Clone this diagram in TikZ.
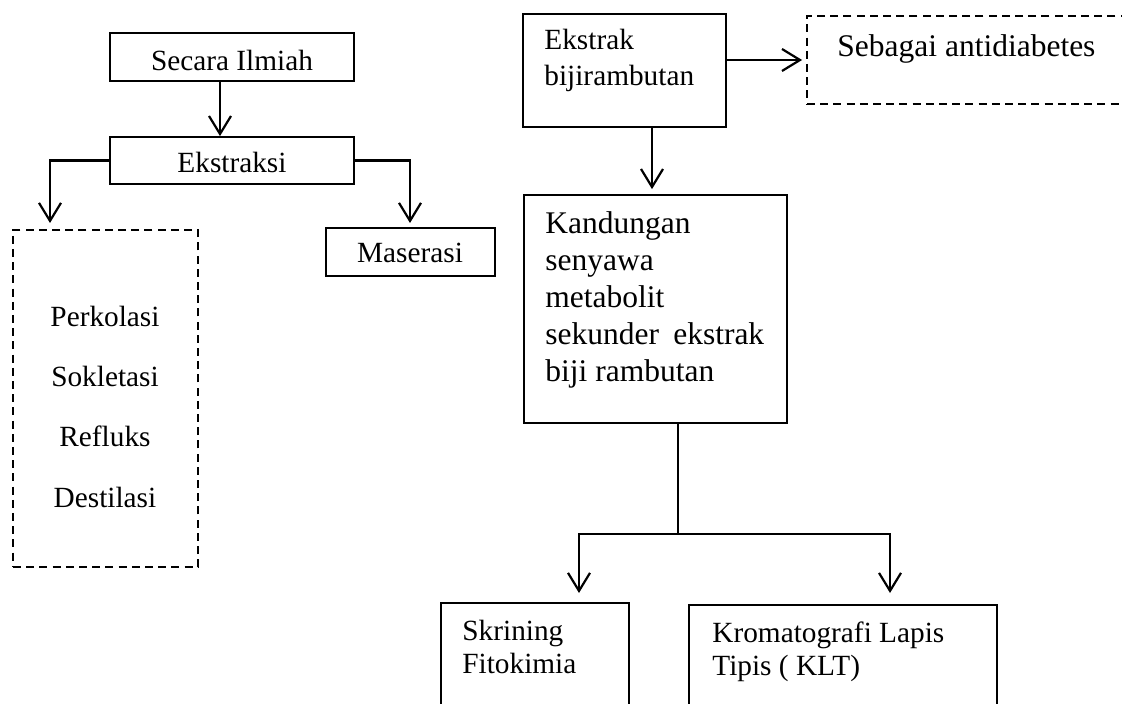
\documentclass[tikz,border=0pt]{standalone}
\usepackage{fontspec}
\setmainfont{Liberation Serif}
\usetikzlibrary{arrows.meta,fit,calc}
\begin{document}
\begin{tikzpicture}[x=0.5pt,y=-0.5pt,
  box/.style={draw,line width=0.9pt,inner sep=0pt},
  dbox/.style={draw,line width=0.9pt,inner sep=0pt,dash pattern=on 4pt off 2.6pt},
  txt/.style={inner sep=0pt,font=\fontsize{14.65}{17}\selectfont},
  bigtxt/.style={inner sep=0pt,font=\fontsize{15.75}{18}\selectfont},
  arr/.style={line width=1.1pt,-{Straight Barb[length=9pt,width=11pt,line width=1.1pt]}},
  ln/.style={line width=0.75pt}]
\useasboundingbox (0,0) rectangle (1122,704);
\clip (0,0) rectangle (1122,704);
% boxes
\node[box,fit={(110,33) (354,81)}] (sec) {};
\node[box,fit={(110,137) (354,184)}] (ekx) {};
\node[dbox,fit={(13,230) (198,567)}] (list) {};
\node[box,fit={(326,228) (495,276)}] (mas) {};
\node[box,fit={(523,14) (726,127)}] (ek) {};
\node[dbox,fit={(807,16) (1135,104)}] (sb) {};
\node[box,fit={(524,195) (787,423)}] (kd) {};
\node[box,fit={(441,603) (629,720)}] (sk) {};
\node[box,fit={(689,605) (997,720)}] (klt) {};
% texts
\node[txt,anchor=base] (tsec) at (232,71) {Secara Ilmiah};
\node[txt,anchor=base] (tekx) at (232,173) {Ekstraksi};
\node[txt,anchor=base] (tl1) at (105,327) {Perkolasi};
\node[txt,anchor=base] (tl2) at (105,387) {Sokletasi};
\node[txt,anchor=base] (tl3) at (105,447) {Refluks};
\node[txt,anchor=base] (tl4) at (105,508) {Destilasi};
\node[txt,anchor=base] (tmas) at (410,263) {Maserasi};
\node[txt,anchor=base west] (tek1) at (544,50) {Ekstrak};
\node[txt,anchor=base west] (tek2) at (544,86) {bijirambutan};
\node[bigtxt,anchor=base west] (tsb) at (837,57) {Sebagai antidiabetes};
\node[bigtxt,anchor=base west] (tkd1) at (545,234) {Kandungan};
\node[bigtxt,anchor=base west] (tkd2) at (545,271) {senyawa};
\node[bigtxt,anchor=base west] (tkd3) at (545,308) {metabolit};
\node[bigtxt,anchor=base west] (tkd4) at (545,345) {sekunder\hspace{0.45em}ekstrak};
\node[bigtxt,anchor=base west] (tkd5) at (545,382) {biji rambutan};
\node[txt,anchor=base west] (tsk1) at (462,640) {Skrining};
\node[txt,anchor=base west] (tsk2) at (462,673) {Fitokimia};
\node[txt,anchor=base west] (tklt1) at (712,642) {Kromatografi Lapis};
\node[txt,anchor=base west] (tklt2) at (712,675) {Tipis ( KLT)};
% free ends
\coordinate (lt) at (50,223);
\coordinate (mt) at (410,223);
\coordinate (j) at (678,534);
\coordinate (a1) at (579,593);
\coordinate (a2) at (890,593);
% connectors
\draw[arr] ([xshift=-6pt]sec.south) -- ([xshift=-6pt]sec.south |- ekx.north);
\draw[arr] (ekx.west) -| (lt);
\draw[arr] (ekx.east) -| (mt);
\draw[arr,shorten >=2pt] (ek.east |- sb.west) -- (sb.west);
\draw[arr,shorten >=2.5pt] ([xshift=13.75pt]ek.south) -- ([xshift=13.75pt]ek.south |- kd.north);
\draw[ln] ([xshift=11.25pt]kd.south) -- (j);
\draw[arr] (j) -| (a1);
\draw[arr] (j) -| (a2);
\end{tikzpicture}
\end{document}
